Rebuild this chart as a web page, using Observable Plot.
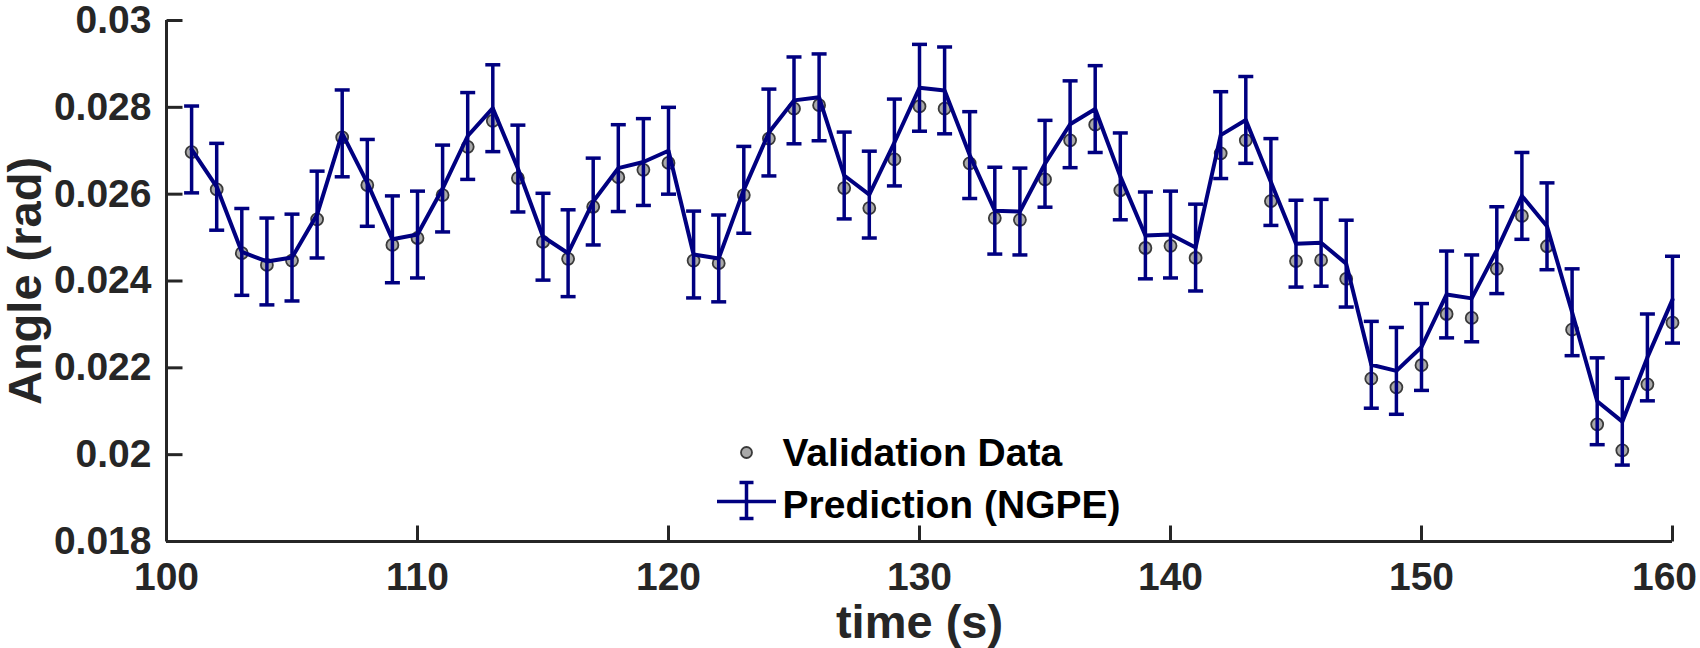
<!DOCTYPE html>
<html>
<head>
<meta charset="utf-8">
<script src="https://cdn.jsdelivr.net/npm/d3@7"></script>
<script src="https://cdn.jsdelivr.net/npm/@observablehq/plot@0.6"></script>
<style>
  html, body { margin: 0; padding: 0; background: #ffffff; }
  #chart { width: 1700px; height: 648px; }
</style>
</head>
<body>
<div id="chart"></div>
<script>
// ---- data ----
const time = [101,102,103,104,105,106,107,108,109,110,
              111,112,113,114,115,116,117,118,119,120,
              121,122,123,124,125,126,127,128,129,130,
              131,132,133,134,135,136,137,138,139,140,
              141,142,143,144,145,146,147,148,149,150,
              151,152,153,154,155,156,157,158,159,160];

const validation = [0.02697,0.02611,0.02464,0.02437,0.02447,0.02542,0.02731,0.02621,0.02483,0.02499,
                    0.02598,0.02709,0.02769,0.02637,0.02490,0.02451,0.02571,0.02639,0.02656,0.02672,
                    0.02447,0.02441,0.02598,0.02728,0.02797,0.02805,0.02614,0.02568,0.02680,0.02802,
                    0.02797,0.02671,0.02545,0.02541,0.02634,0.02724,0.02760,0.02609,0.02476,0.02481,
                    0.02453,0.02694,0.02724,0.02584,0.02446,0.02448,0.02405,0.02175,0.02155,0.02206,
                    0.02324,0.02315,0.02428,0.02550,0.02480,0.02288,0.02070,0.02010,0.02162,0.02304];

const prediction = [0.02703,0.02617,0.02467,0.02445,0.02454,0.02553,0.02740,0.02626,0.02496,0.02507,
                    0.02613,0.02734,0.02798,0.02659,0.02502,0.02464,0.02583,0.02660,0.02674,0.02700,
                    0.02461,0.02452,0.02610,0.02742,0.02816,0.02823,0.02643,0.02599,0.02719,0.02845,
                    0.02839,0.02690,0.02562,0.02560,0.02670,0.02761,0.02796,0.02641,0.02505,0.02507,
                    0.02477,0.02736,0.02771,0.02628,0.02486,0.02488,0.02440,0.02207,0.02193,0.02248,
                    0.02369,0.02360,0.02471,0.02596,0.02526,0.02328,0.02123,0.02076,0.02224,0.02357];

const errorHalfWidth = 0.001;

const xTicks = [100,110,120,130,140,150,160];
const yTicks = [0.018,0.02,0.022,0.024,0.026,0.028,0.03];
const yTickLabels = ["0.018","0.02","0.022","0.024","0.026","0.028","0.03"];
const legendLabels = ["Validation Data","Prediction (NGPE)"];
const xLabel = "time (s)";
const yLabel = "Angle (rad)";

// ---- table for the library ----
const rows = time.map((t, i) => ({
  t,
  v: validation[i],
  p: prediction[i],
  lo: prediction[i] - errorHalfWidth,
  hi: prediction[i] + errorHalfWidth
}));

// ---- styles ----
const navy = "#000080";
const axisColor = "#262626";
const markerFill = "#a9a9a9";
const markerStroke = "#3a3a3a";
const fontFamily = "'Liberation Sans', Arial, Helvetica, sans-serif";

const rightTick = {draw(ctx, l) { ctx.moveTo(0, 0); ctx.lineTo(l, 0); }};
const upTick = {draw(ctx, l) { ctx.moveTo(0, 0); ctx.lineTo(0, -l); }};
const hSeg = {draw(ctx, l) { ctx.moveTo(-l / 2, 0); ctx.lineTo(l / 2, 0); }};
const errGlyph = {draw(ctx, l) {
  ctx.moveTo(0, -l / 2); ctx.lineTo(0, l / 2);
  ctx.moveTo(-7, -l / 2); ctx.lineTo(7, -l / 2);
  ctx.moveTo(-7, l / 2); ctx.lineTo(7, l / 2);
}};

const chart = Plot.plot({
  width: 1700,
  height: 648,
  marginTop: 20,
  marginBottom: 107,
  marginLeft: 166,
  marginRight: 28,
  style: {
    fontFamily,
    fontWeight: "bold",
    fontSize: "39px",
    color: axisColor,
    background: "#ffffff",
    overflow: "visible"
  },
  x: {domain: [100, 160], label: null},
  y: {domain: [0.018, 0.03], ticks: yTicks, tickSize: 0, tickPadding: 15, label: null,
      tickFormat: d => yTickLabels[yTicks.indexOf(d)]},
  marks: [
    // x tick labels (last one nudged inside the picture, as in the reference)
    Plot.axisX(xTicks.slice(0, -1), {tickSize: 0, tickPadding: 21, label: null}),
    Plot.axisX(xTicks.slice(-1), {tickSize: 0, tickPadding: 21, label: null, dx: -8}),
    // axis lines
    Plot.ruleX([100], {stroke: axisColor, strokeWidth: 3}),
    Plot.ruleY([0.018], {stroke: axisColor, strokeWidth: 3}),
    // inward ticks
    Plot.vector(yTicks, {x: 100, y: d => d, length: 16, shape: rightTick, anchor: "start",
      stroke: axisColor, strokeWidth: 3, strokeLinecap: "butt"}),
    Plot.vector(xTicks, {x: d => d, y: 0.018, length: 16, shape: upTick, anchor: "start",
      stroke: axisColor, strokeWidth: 3, strokeLinecap: "butt"}),
    // validation data
    Plot.dot(rows, {x: "t", y: "v", r: 6, fill: markerFill, stroke: markerStroke, strokeWidth: 1.8}),
    // prediction line
    Plot.line(rows, {x: "t", y: "p", stroke: navy, strokeWidth: 4, strokeLinejoin: "round"}),
    // error bars
    Plot.ruleX(rows, {x: "t", y1: "lo", y2: "hi", stroke: navy, strokeWidth: 3.5}),
    Plot.vector(rows, {x: "t", y: "lo", length: 15, shape: hSeg, anchor: "start",
      stroke: navy, strokeWidth: 3.5, strokeLinecap: "butt"}),
    Plot.vector(rows, {x: "t", y: "hi", length: 15, shape: hSeg, anchor: "start",
      stroke: navy, strokeWidth: 3.5, strokeLinecap: "butt"}),
    // legend
    Plot.dot([0], {frameAnchor: "top-left", dx: 580, dy: 432, r: 5.5,
      fill: markerFill, stroke: markerStroke, strokeWidth: 1.8}),
    Plot.vector([0], {frameAnchor: "top-left", dx: 580, dy: 481, length: 59, shape: hSeg,
      anchor: "start", stroke: navy, strokeWidth: 3.5, strokeLinecap: "butt"}),
    Plot.vector([0], {frameAnchor: "top-left", dx: 580, dy: 480, length: 36, shape: errGlyph,
      anchor: "start", stroke: navy, strokeWidth: 3.5, strokeLinecap: "butt"}),
    Plot.text([legendLabels[0]], {frameAnchor: "top-left", dx: 616, dy: 445, text: d => d,
      textAnchor: "start", lineAnchor: "bottom", fontSize: 39, fontWeight: "bold", fill: "#000000"}),
    Plot.text([legendLabels[1]], {frameAnchor: "top-left", dx: 616, dy: 497, text: d => d,
      textAnchor: "start", lineAnchor: "bottom", fontSize: 39, fontWeight: "bold", fill: "#000000"}),
    // axis labels
    Plot.text([yLabel], {frameAnchor: "left", dx: -126, rotate: -90, text: d => d,
      textAnchor: "middle", lineAnchor: "bottom", fontSize: 47, fontWeight: "bold", fill: axisColor}),
    Plot.text([xLabel], {frameAnchor: "bottom", dy: 96, text: d => d,
      textAnchor: "middle", lineAnchor: "bottom", fontSize: 47, fontWeight: "bold", fill: axisColor})
  ]
});

document.getElementById("chart").appendChild(chart);
</script>
</body>
</html>
